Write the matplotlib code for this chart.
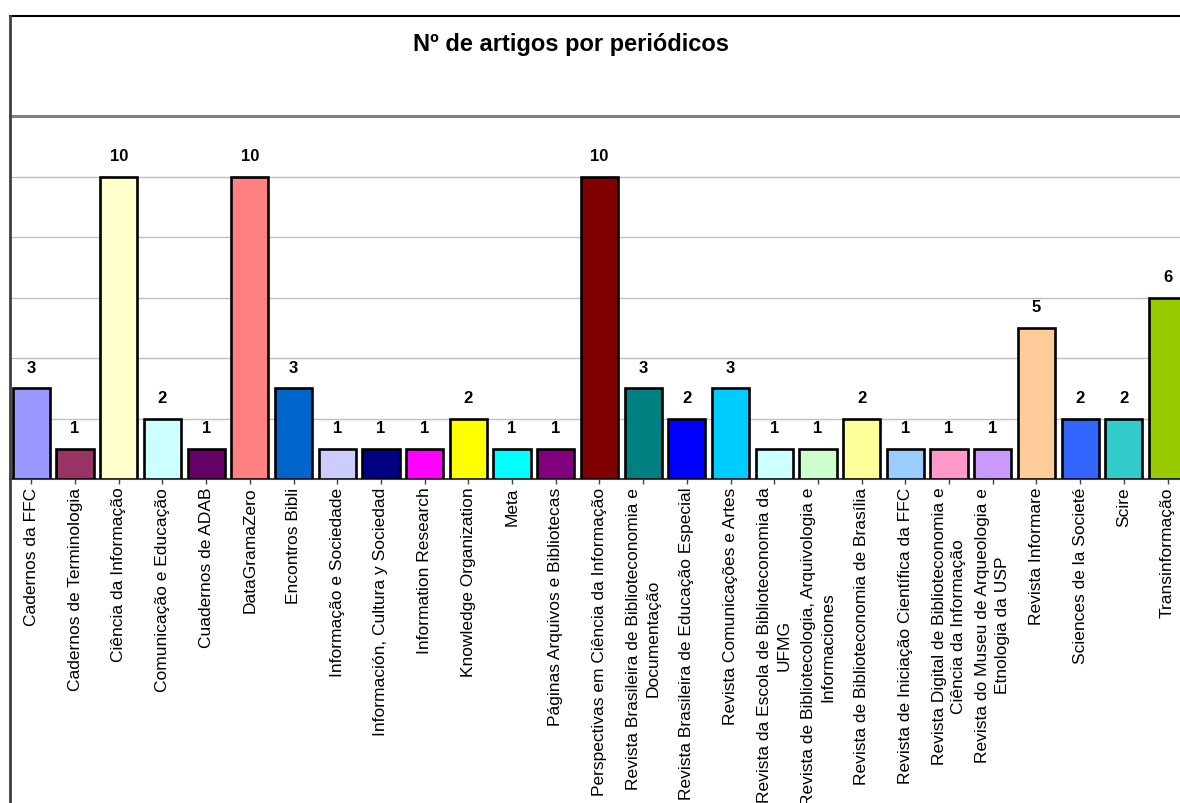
import matplotlib.pyplot as plt
from matplotlib.lines import Line2D

plt.rcParams['font.family'] = ['Liberation Sans', 'DejaVu Sans']

periodicos = [
    'Cadernos da FFC',
    'Cadernos de Terminologia',
    'Ciência da Informação',
    'Comunicação e Educação',
    'Cuadernos de ADAB',
    'DataGramaZero',
    'Encontros Bibli',
    'Informação e Sociedade',
    'Información, Cultura y Sociedad',
    'Information Research',
    'Knowledge Organization',
    'Meta',
    'Páginas Arquivos e Bibliotecas',
    'Perspectivas em Ciência da Informação',
    'Revista Brasileira de Biblioteconomia e\nDocumentação',
    'Revista Brasileira de Educação Especial',
    'Revista Comunicações e Artes',
    'Revista da Escola de Biblioteconomia da\nUFMG',
    'Revista de Bibliotecologia, Arquivologia e\nInformaciones',
    'Revista de Biblioteconomia de Brasília',
    'Revista de Iniciação Científica da FFC',
    'Revista Digital de Biblioteconomia e\nCiência da Informação',
    'Revista do Museu de Arqueologia e\nEtnologia da USP',
    'Revista Informare',
    'Sciences de la Societé',
    'Scire',
    'Transinformação',
]
artigos = [3, 1, 10, 2, 1, 10, 3, 1, 1, 1, 2, 1, 1, 10, 3, 2, 3, 1, 1, 2, 1, 1, 1, 5, 2, 2, 6]

# paleta padrão do Excel
cores = ['#9999FF', '#993366', '#FFFFCC', '#CCFFFF', '#660066', '#FF8080',
         '#0066CC', '#CCCCFF', '#000080', '#FF00FF', '#FFFF00', '#00FFFF',
         '#800080', '#800000', '#008080', '#0000FF', '#00CCFF', '#CCFFFF',
         '#CCFFCC', '#FFFF99', '#99CCFF', '#FF99CC', '#CC99FF', '#FFCC99',
         '#3366FF', '#33CCCC', '#99CC00']

W, H = 1180, 804
fig = plt.figure(figsize=(W / 100, H / 100), dpi=100)

# área do gráfico (estende-se além da borda direita, como no recorte original)
step = 43.7
x0, top, base = 9.5, 117, 480
ax = fig.add_axes([x0 / W, 1 - base / H, 27 * step / W, (base - top) / H])

x = list(range(len(periodicos)))
ax.bar(x, artigos, width=0.85, color=cores, edgecolor='black', linewidth=1.9, zorder=3)

for xi, v in zip(x, artigos):
    ax.annotate(str(v), (xi, v), xytext=(0, 15), textcoords='offset points',
                ha='center', va='center', fontsize=12, fontweight='bold')

ax.set_xlim(-0.5, 26.5)
ax.set_ylim(0, 12)
ax.set_yticks([2, 4, 6, 8, 10])
ax.yaxis.grid(True, color='#C0C0C0', linewidth=1)
ax.tick_params(axis='y', left=False, labelleft=False)

ax.set_xticks(x)
ax.set_xticklabels(periodicos, rotation=90, fontsize=12.5, ha='center', va='top',
                   multialignment='center')
for lbl in ax.get_xticklabels():
    lbl.set_linespacing(1.4)
ax.tick_params(axis='x', length=3.5, width=1, color='#404040', pad=2)

ax.spines['top'].set_color('#808080')
ax.spines['top'].set_linewidth(2.2)
ax.spines['bottom'].set_color('#404040')
ax.spines['bottom'].set_linewidth(1.5)
ax.spines['left'].set_color('#C0C0C0')
ax.spines['right'].set_visible(False)

# bordas do quadro do gráfico
fig.add_artist(Line2D([10 / W, 1], [1 - 17 / H, 1 - 17 / H], color='black', linewidth=1.5))
fig.add_artist(Line2D([10 / W, 10 / W], [0, 1 - 17 / H], color='#404040', linewidth=2))

fig.text(571 / W, 1 - 44 / H, 'Nº de artigos por periódicos', ha='center', va='center',
         fontsize=17, fontweight='bold')

fig.savefig('out.png', dpi=100)
